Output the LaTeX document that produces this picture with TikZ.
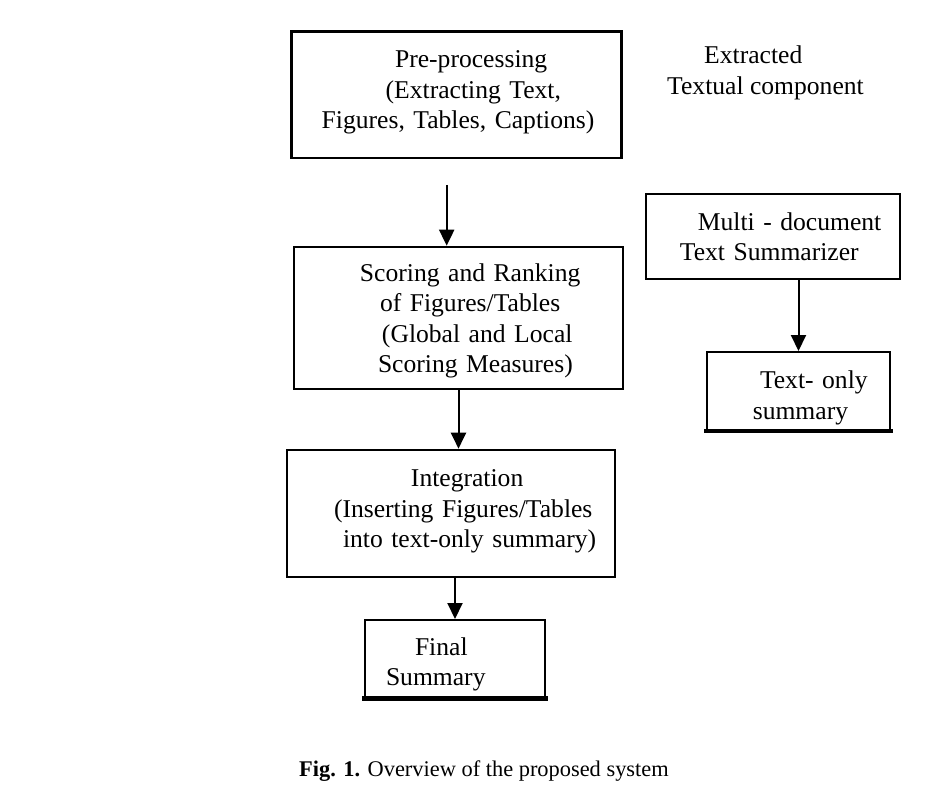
\documentclass[tikz,border=0pt]{standalone}
\usepackage{fontspec}
\setmainfont{Liberation Serif}
\usetikzlibrary{arrows.meta}

\begin{document}
\begin{tikzpicture}[x=0.5pt, y=-0.5pt,
        box/.style={draw, line width=1.3pt, inner sep=0pt, align=left,
            font=\fontsize{12.8}{15.2}\selectfont},
        endbox/.style={box, line width=1pt},
        arr/.style={-{Triangle[width=7.5pt,length=8pt]}, line width=1pt}]
    \useasboundingbox (0,0) rectangle (939,805);

    % main column
    \node[box, minimum width=165pt, minimum height=63.2pt, text width=147pt] (pre) at (456.7,94.9)
        {\hspace*{42.7pt}Pre-processing\\ \hspace*{38pt}(Extracting Text,\\
         \hspace*{6pt}Figures, Tables, Captions)\rule[-5.3pt]{0pt}{1pt}};
    \node[box, minimum width=164.5pt, minimum height=71pt, text width=131.5pt] (score) at (458.5,318)
        {\rule{0pt}{11.8pt}\hspace*{16.5pt}Scoring and Ranking\\ \hspace*{26.5pt}of Figures/Tables\\
         \hspace*{27.5pt}(Global and Local\\ \hspace*{25.5pt}Scoring Measures)};
    \node[box, minimum width=164pt, minimum height=63.5pt, text width=154pt] (integ) at (451,513.5)
        {\hspace*{57pt}Integration\\ \hspace*{18.5pt}(Inserting Figures/Tables\\
         \hspace*{23pt}into text-only summary)\rule[-4.8pt]{0pt}{1pt}};
    \node[endbox, minimum width=90pt, minimum height=38.8pt, text width=81pt] (fin) at (455,658.8)
        {\rule{0pt}{14.7pt}\hspace*{20.5pt}Final\\ \hspace*{6pt}Summary};

    % right column
    \node[align=left, inner sep=0pt, font=\fontsize{12.8}{15.2}\selectfont] (extr) at (765.5,73)
        {\hspace*{18.5pt}Extracted\\Textual component};
    \node[box, minimum width=127pt, minimum height=42.5pt, text width=115.7pt] (multi) at (773,236.5)
        {\hspace*{20.3pt}Multi - document\\ \hspace*{11.3pt}Text Summarizer};
    \node[endbox, minimum width=91.5pt, minimum height=39pt, text width=77.5pt] (tos) at (798.5,391)
        {\rule{0pt}{15.7pt}\hspace*{19.5pt}Text- only\\ \hspace*{15.9pt}summary};

    % thick bottom edges
    \draw[line width=2.2pt] ([xshift=-1pt]fin.south west) -- ([xshift=1pt]fin.south east);
    \draw[line width=2.2pt] ([xshift=-1pt]tos.south west) -- ([xshift=1pt]tos.south east);

    % arrows
    \coordinate (a1) at ([xshift=-5pt,yshift=-12.7pt]pre.south);
    \draw[arr] (a1) -- (a1 |- score.north);
    \draw[arr] (score.south) -- (score.south |- integ.north);
    \draw[arr] (fin.north |- integ.south) -- (fin.north);
    \draw[arr] (tos.north |- multi.south) -- (tos.north);

    \node[font=\fontsize{11.2}{13}\selectfont, inner sep=0pt] (cap) at (484,771)
        {\textbf{Fig. 1.} Overview of the proposed system};
\end{tikzpicture}
\end{document}
